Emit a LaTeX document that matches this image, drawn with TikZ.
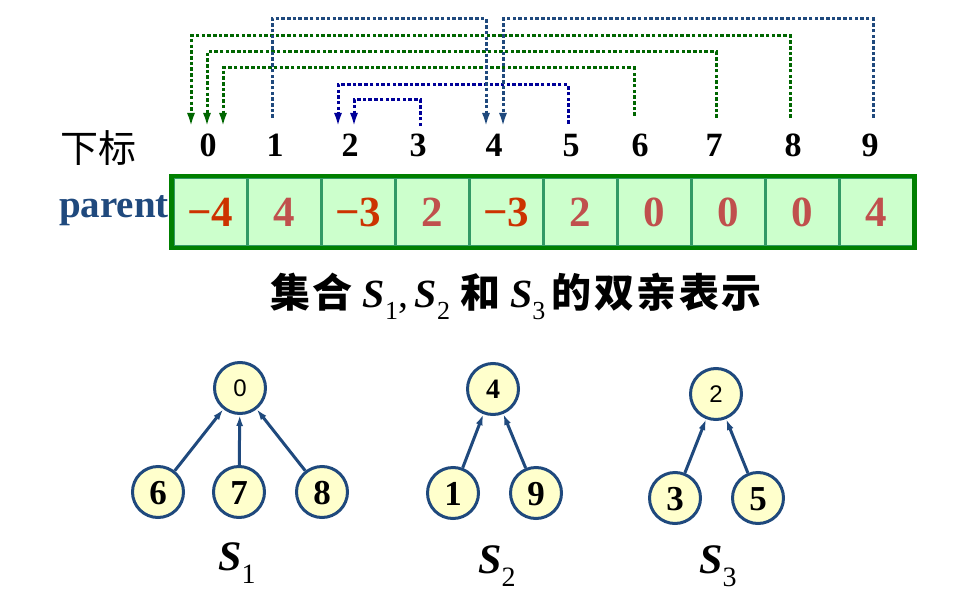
\documentclass[tikz,border=0pt]{standalone}
\usepackage{fontspec}
\setmainfont{Liberation Serif}
\newfontfamily\cjk{Noto Sans CJK SC}
\newfontfamily\cjkwide{Noto Sans CJK SC}[LetterSpace=6]
\newfontfamily\arialfont{Liberation Sans}
\usetikzlibrary{arrows.meta}
\definecolor{linkblue}{RGB}{31,73,125}
\definecolor{linkgreen}{RGB}{0,102,0}
\definecolor{linknavy}{RGB}{0,0,153}
\definecolor{boxgreen}{RGB}{0,128,0}
\definecolor{divgreen}{RGB}{51,153,102}
\definecolor{cellfill}{RGB}{204,255,204}
\definecolor{valred}{RGB}{204,51,0}
\definecolor{valbrown}{RGB}{192,80,77}
\definecolor{nodefill}{RGB}{255,255,204}
\definecolor{nodeblue}{RGB}{31,73,125}
\newcommand{\fs}[1]{\fontsize{#1}{#1}\selectfont}
\newcommand{\Sn}[2]{{\bfseries\itshape S}\raisebox{-0.3em}{\fontsize{#2}{#2}\selectfont #1}}
\begin{document}
\begin{tikzpicture}[x=1pt,y=-1pt,
  cell/.style={draw=divgreen,line width=3pt,fill=cellfill,minimum width=74pt,minimum height=69pt,
    inner sep=0pt,text height=29pt,text depth=0pt,font=\fs{43}\bfseries},
  idx/.style={font=\fs{34}\bfseries,inner sep=0pt,text height=23pt,text depth=0pt},
  link/.style={line width=3pt,dash pattern=on 3.5pt off 2.2pt,-{Latex[length=14pt,width=8pt]}},
  setnode/.style={circle,draw=nodeblue,fill=nodefill,line width=3pt,minimum size=51pt,inner sep=0pt,
    text height=24pt,text depth=0pt,font=\fs{35}\bfseries},
  rootnode/.style={setnode,text height=17pt,font=\arialfont\fs{24}},
  treearrow/.style={draw=nodeblue,line width=3pt,-{Latex[length=11pt,width=7pt]}}]
\useasboundingbox (0,0) rectangle (968,615);
% array of parents
\foreach \i/\v/\c in {0/−4/valred,1/4/valbrown,2/−3/valred,3/2/valbrown,4/−3/valred,
                      5/2/valbrown,6/0/valbrown,7/0/valbrown,8/0/valbrown,9/4/valbrown}
  \node[cell,text=\c] (c\i) at (210+74*\i,212) {\v};
\draw[boxgreen,line width=4.5pt] (c0.north west) rectangle (c9.south east);
\node[font=\fs{39}\bfseries,text=linkblue,anchor=east,inner sep=0pt] (par) at (169,211) {parent};
% indices
\node[font=\cjk\fs{38},anchor=west,inner sep=0pt] (lbl) at (60,148) {下标};
\foreach \i/\x in {0/208,1/275,2/350,3/418,4/494,5/571,6/640,7/714,8/793,9/870}
  \node[idx] (i\i) at (\x,145) {\i};
% parent links
\foreach \from/\sx/\sy/\top/\ex/\col in {8/790/118/36/191/linkgreen,7/716/118/52/207/linkgreen,
    6/634/116/68/223/linkgreen,5/568/124/85/338/linknavy,3/420/126/100/354/linknavy,
    1/272/118/19/486/linkblue,9/873/118/19/503/linkblue}{
  \coordinate (s\from) at (\sx,\sy);
  \coordinate (e\from) at (\ex,127);
  \draw[link,draw=\col] (s\from) |- (\ex,\top) -- (e\from);}
\node[font=\fs{40},inner sep=0pt] (title) at (516,296)
  {{\cjkwide\bfseries 集合} \Sn{1}{26},\,\Sn{2}{26} {\cjkwide\bfseries 和} \Sn{3}{26}\,{\cjkwide\bfseries 的双亲表示}};
% trees
\node[rootnode] (r0) at (240,388) {0};
\node[setnode] (n6) at (158,492) {6};
\node[setnode] (n7) at (239,492) {7};
\node[setnode] (n8) at (322,492) {8};
\node[rootnode,text height=19pt,font=\fs{28}\bfseries] (r4) at (493,389) {4};
\node[setnode] (n1) at (453,493) {1};
\node[setnode] (n9) at (536,493) {9};
\node[rootnode] (r2) at (716,394) {2};
\node[setnode] (n3) at (675,498) {3};
\node[setnode] (n5) at (758,498) {5};
\foreach \c/\r in {6/0,7/0,8/0,1/4,9/4,3/2,5/2}
  \draw[treearrow] (n\c) -- (r\r);
\node[font=\fs{42}] (lab1) at (237,563) {\Sn{1}{28}};
\node[font=\fs{42}] (lab2) at (497,566) {\Sn{2}{28}};
\node[font=\fs{42}] (lab3) at (718,566) {\Sn{3}{28}};
\end{tikzpicture}
\end{document}
